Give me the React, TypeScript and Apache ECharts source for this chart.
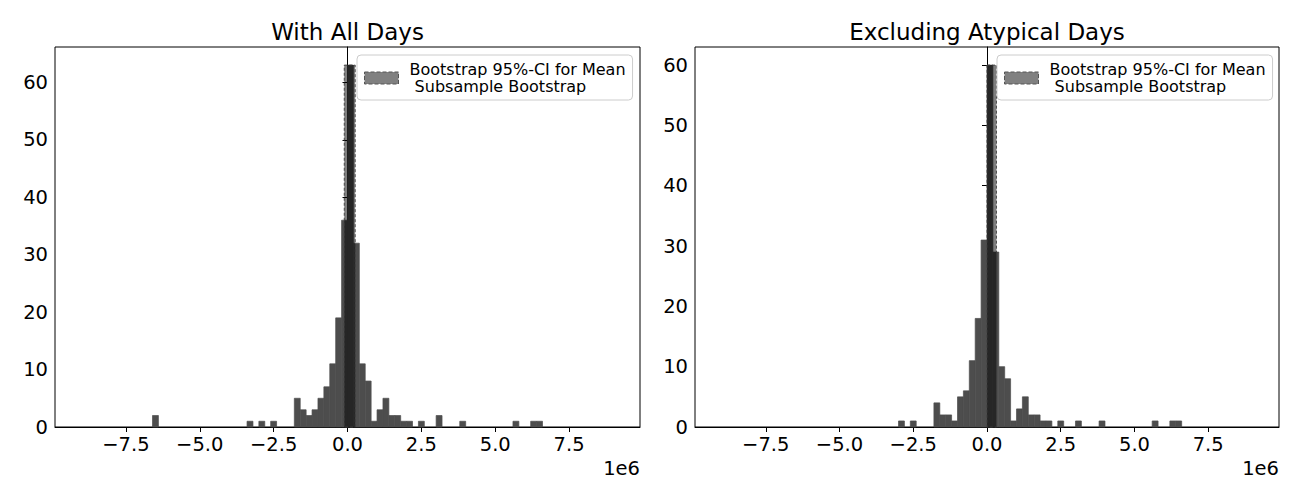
import React, { useEffect, useRef } from "react";
import * as echarts from "echarts";

// Histogram bin width (in units of 1e6)
const BIN_WIDTH = 0.2;

// "With All Days": left edges of non-empty bins (1e6) and their counts
const allDaysBinStarts = [-6.6, -3.4, -3.0, -2.6, -1.8, -1.6, -1.4, -1.2, -1.0, -0.8, -0.6, -0.4, -0.2, 0.0, 0.2, 0.4, 0.6, 0.8, 1.0, 1.2, 1.4, 1.6, 1.8, 2.0, 2.4, 3.0, 3.8, 5.6, 6.2, 6.4];
const allDaysCounts = [2, 1, 1, 1, 5, 3, 2, 3, 5, 7, 11, 19, 36, 63, 32, 11, 8, 1, 3, 5, 2, 2, 1, 1, 1, 2, 1, 1, 1, 1];

// "Excluding Atypical Days"
const exclBinStarts = [-3.0, -2.6, -1.8, -1.6, -1.4, -1.2, -1.0, -0.8, -0.6, -0.4, -0.2, 0.0, 0.2, 0.4, 0.6, 0.8, 1.0, 1.2, 1.4, 1.6, 1.8, 2.0, 2.4, 3.0, 3.8, 5.6, 6.2, 6.4];
const exclCounts = [1, 1, 4, 2, 2, 1, 5, 6, 11, 18, 31, 60, 29, 10, 8, 1, 3, 5, 2, 2, 1, 1, 1, 1, 1, 1, 1, 1];

// Bootstrap 95%-CI for the mean (1e6)
const allDaysCI = [-0.11, 0.26];
const exclCI = [0.0, 0.32];

const titles = ["With All Days", "Excluding Atypical Days"];
const xTicks = [-7.5, -5.0, -2.5, 0.0, 2.5, 5.0, 7.5];
const yTicks = [0, 10, 20, 30, 40, 50, 60];
const legendLabel = "Bootstrap 95%-CI for Mean\n Subsample Bootstrap";

const X_LIMIT = 9.9; // 1e6
const FONT = "DejaVu Sans";
const TICK_FONT = 19.5;

function fmtTick(v: number) {
  const s = (Math.abs(v) / 1e6).toFixed(1);
  return v < 0 ? "\u2212" + s : s;
}

export default function App() {
  const ref = useRef<HTMLDivElement>(null);

  useEffect(() => {
    if (!ref.current) return;
    const chart = echarts.init(ref.current, null, { renderer: "svg" });

    const grids = [
      { left: 55, top: 47, width: 585, height: 380 },
      { left: 695, top: 47, width: 584, height: 380 },
    ];
    const sets = [
      { starts: allDaysBinStarts, counts: allDaysCounts, ci: allDaysCI },
      { starts: exclBinStarts, counts: exclCounts, ci: exclCI },
    ];

    const histRender = (params: any, api: any) => {
      const s = api.coord([api.value(0), 0]);
      const e = api.coord([api.value(1), api.value(2)]);
      return {
        type: "rect",
        shape: { x: s[0], y: e[1], width: e[0] - s[0], height: s[1] - e[1] },
        style: { fill: "#4d4d4d", stroke: "#4d4d4d", lineWidth: 0.7 },
      };
    };
    const ciRender = (params: any, api: any) => {
      const s = api.coord([api.value(0), 0]);
      const e = api.coord([api.value(1), api.value(2)]);
      return {
        type: "rect",
        shape: { x: s[0], y: e[1], width: e[0] - s[0], height: s[1] - e[1] },
        style: {
          fill: "rgba(0,0,0,0.5)",
          stroke: "rgba(60,60,60,0.9)",
          lineWidth: 1,
          lineDash: [3, 2],
        },
      };
    };

    const xAxis: any[] = [];
    const yAxis: any[] = [];
    const series: any[] = [];
    const legend: any[] = [];
    const graphic: any[] = [];

    sets.forEach((set, i) => {
      const maxCount = Math.max(...set.counts);
      xAxis.push({
        type: "value",
        gridIndex: i,
        min: -X_LIMIT * 1e6,
        max: X_LIMIT * 1e6,
        splitLine: { show: false },
        axisLine: { show: true, onZero: false, lineStyle: { color: "#000", width: 1 } },
        axisTick: {
          show: true,
          length: 5,
          lineStyle: { color: "#000" },
          customValues: xTicks.map((t) => t * 1e6),
        },
        axisLabel: {
          color: "#000",
          fontFamily: FONT,
          fontSize: TICK_FONT,
          margin: 7,
          customValues: xTicks.map((t) => t * 1e6),
          formatter: (v: number) => fmtTick(v),
        },
      });
      yAxis.push({
        type: "value",
        gridIndex: i,
        min: 0,
        max: maxCount * 1.05,
        splitLine: { show: false },
        axisLine: { show: true, lineStyle: { color: "#000", width: 1 } },
        axisTick: { show: true, length: 5, lineStyle: { color: "#000" }, customValues: yTicks },
        axisLabel: {
          color: "#000",
          fontFamily: FONT,
          fontSize: TICK_FONT,
          margin: 7,
          customValues: yTicks,
          formatter: (v: number) => String(v),
        },
      });
      series.push({
        type: "custom",
        name: "hist" + i,
        xAxisIndex: i,
        yAxisIndex: i,
        renderItem: histRender,
        encode: { x: [0, 1], y: 2 },
        data: set.starts.map((s, k) => [s * 1e6, (s + BIN_WIDTH) * 1e6, set.counts[k]]),
        z: 2,
        silent: true,
      });
      series.push({
        type: "custom",
        name: legendLabel,
        xAxisIndex: i,
        yAxisIndex: i,
        renderItem: ciRender,
        encode: { x: [0, 1], y: 2 },
        itemStyle: { color: "#808080" },
        data: [[set.ci[0] * 1e6, set.ci[1] * 1e6, maxCount]],
        z: 3,
        silent: true,
      });
      legend.push({
        left: i === 0 ? 357 : 997,
        top: 55,
        orient: "vertical",
        selectedMode: false,
        backgroundColor: "rgba(255,255,255,0.8)",
        borderColor: "#cccccc",
        borderWidth: 1,
        borderRadius: 4,
        padding: [6, 7, 5, 7],
        itemWidth: 34,
        itemHeight: 12,
        textStyle: {
          fontFamily: FONT,
          fontSize: 16,
          lineHeight: 17,
          color: "#000",
          padding: [0, 0, 0, 6],
        },
        data: [
          {
            name: legendLabel,
            icon: "rect",
            itemStyle: {
              color: "#808080",
              borderColor: "#555555",
              borderType: "dashed",
              borderWidth: 1,
            },
          },
        ],
      });
      const g = grids[i];
      graphic.push({
        type: "text",
        x: g.left + g.width / 2,
        y: 32,
        style: {
          text: titles[i],
          fontFamily: FONT,
          fontSize: 23,
          fill: "#000",
          textAlign: "center",
          textVerticalAlign: "middle",
        },
      });
      graphic.push({
        type: "text",
        x: g.left + g.width,
        y: 468,
        style: {
          text: "1e6",
          fontFamily: FONT,
          fontSize: TICK_FONT,
          fill: "#000",
          textAlign: "right",
          textVerticalAlign: "middle",
        },
      });
    });

    chart.setOption({
      animation: false,
      backgroundColor: "#fff",
      grid: grids.map((g) => ({
        ...g,
        show: true,
        borderColor: "#000",
        borderWidth: 1,
        backgroundColor: "transparent",
      })),
      xAxis,
      yAxis,
      legend,
      series,
      graphic,
    });

    return () => chart.dispose();
  }, []);

  return (
    <div
      ref={ref}
      style={{ position: "fixed", left: 0, top: 0, width: 1300, height: 500, background: "#fff" }}
    />
  );
}
